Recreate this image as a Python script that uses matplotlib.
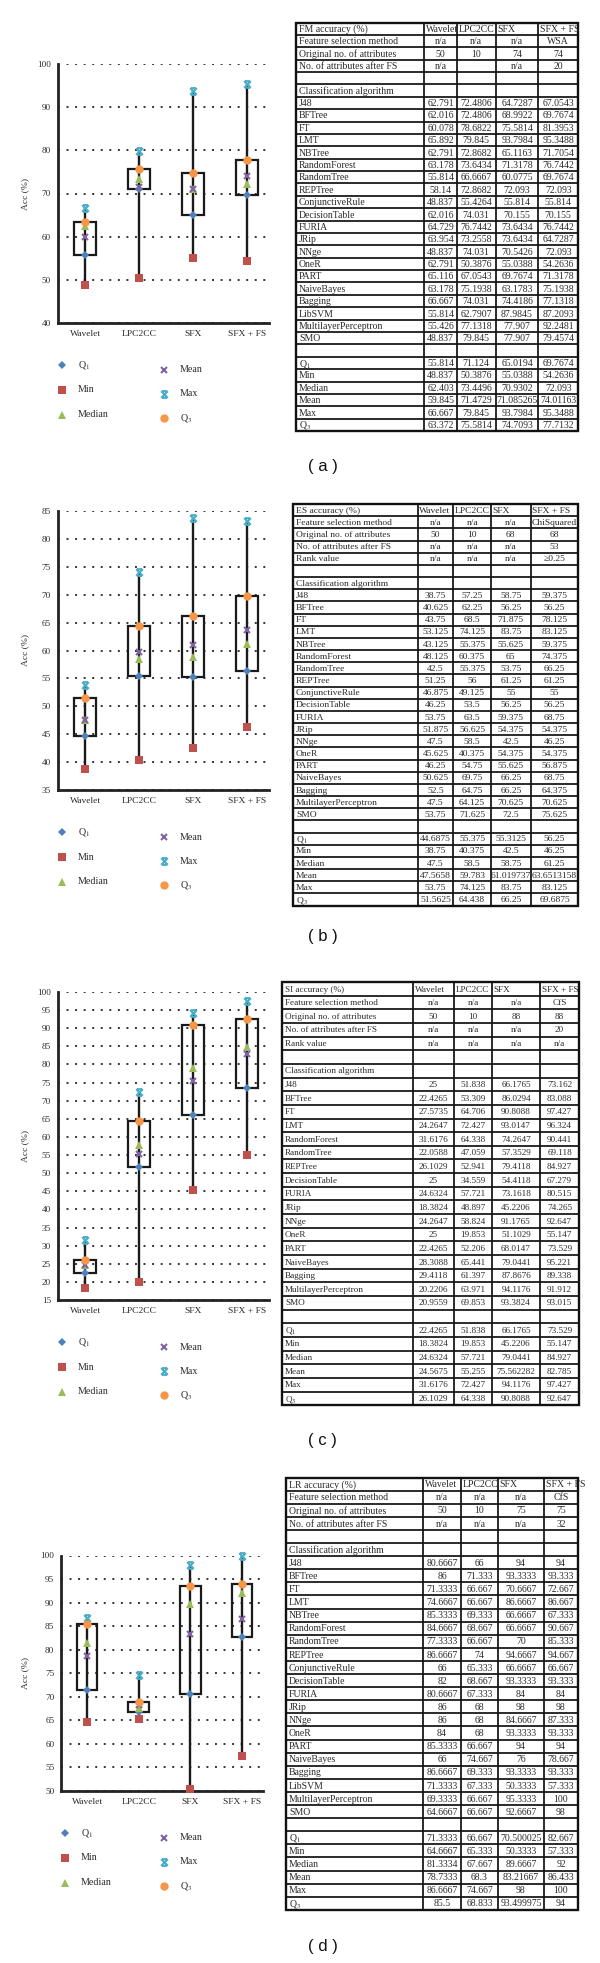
import numpy as np
import matplotlib
matplotlib.use('Agg')
import matplotlib.pyplot as plt
from matplotlib.patches import Rectangle
from matplotlib.path import Path

plt.rcParams['mathtext.fontset'] = 'stix'
SERIF = ['Liberation Serif', 'DejaVu Serif']
SANS = ['Liberation Sans', 'DejaVu Sans']

# ---------------- data ----------------
methods = ['Wavelet', 'LPC2CC', 'SFX', 'SFX + FS']
stat_names = ['Q$_1$', 'Min', 'Median', 'Mean', 'Max', 'Q$_3$']

# (a) FM
a_title = 'FM accuracy (%)'
a_meta_names = ['Feature selection method', 'Original no. of attributes', 'No. of attributes after FS']
a_meta_vals = [['n/a', 'n/a', 'n/a', 'WSA'], ['50', '10', '74', '74'], ['n/a', '', 'n/a', '20']]
a_algos = ['J48', 'BFTree', 'FT', 'LMT', 'NBTree', 'RandomForest', 'RandomTree', 'REPTree',
           'ConjunctiveRule', 'DecisionTable', 'FURIA', 'JRip', 'NNge', 'OneR', 'PART',
           'NaiveBayes', 'Bagging', 'LibSVM', 'MultilayerPerceptron', 'SMO']
a_wavelet = [62.791, 62.016, 60.078, 65.892, 62.791, 63.178, 55.814, 58.14, 48.837, 62.016,
             64.729, 63.954, 48.837, 62.791, 65.116, 63.178, 66.667, 55.814, 55.426, 48.837]
a_lpc2cc = [72.4806, 72.4806, 78.6822, 79.845, 72.8682, 73.6434, 66.6667, 72.8682, 55.4264, 74.031,
            76.7442, 73.2558, 74.031, 50.3876, 67.0543, 75.1938, 74.031, 62.7907, 77.1318, 79.845]
a_sfx = [64.7287, 68.9922, 75.5814, 93.7984, 65.1163, 71.3178, 60.0775, 72.093, 55.814, 70.155,
         73.6434, 73.6434, 70.5426, 55.0388, 69.7674, 63.1783, 74.4186, 87.9845, 77.907, 77.907]
a_sfxfs = [67.0543, 69.7674, 81.3953, 95.3488, 71.7054, 76.7442, 69.7674, 72.093, 55.814, 70.155,
           76.7442, 64.7287, 72.093, 54.2636, 71.3178, 75.1938, 77.1318, 87.2093, 92.2481, 79.4574]
a_q1 = [55.814, 71.124, 65.0194, 69.7674]
a_min = [48.837, 50.3876, 55.0388, 54.2636]
a_median = [62.403, 73.4496, 70.9302, 72.093]
a_mean = [59.845, 71.4729, 71.085265, 74.01163]
a_max = [66.667, 79.845, 93.7984, 95.3488]
a_q3 = [63.372, 75.5814, 74.7093, 77.7132]

# (b) ES
b_title = 'ES accuracy (%)'
b_meta_names = ['Feature selection method', 'Original no. of attributes', 'No. of attributes after FS', 'Rank value']
b_meta_vals = [['n/a', 'n/a', 'n/a', 'ChiSquared'], ['50', '10', '68', '68'],
               ['n/a', 'n/a', 'n/a', '53'], ['n/a', 'n/a', 'n/a', '\u22650.25']]
b_algos = ['J48', 'BFTree', 'FT', 'LMT', 'NBTree', 'RandomForest', 'RandomTree', 'REPTree',
           'ConjunctiveRule', 'DecisionTable', 'FURIA', 'JRip', 'NNge', 'OneR', 'PART',
           'NaiveBayes', 'Bagging', 'MultilayerPerceptron', 'SMO']
b_wavelet = [38.75, 40.625, 43.75, 53.125, 43.125, 48.125, 42.5, 51.25, 46.875, 46.25,
             53.75, 51.875, 47.5, 45.625, 46.25, 50.625, 52.5, 47.5, 53.75]
b_lpc2cc = [57.25, 62.25, 68.5, 74.125, 55.375, 60.375, 55.375, 56, 49.125, 53.5,
            63.5, 56.625, 58.5, 40.375, 54.75, 69.75, 64.75, 64.125, 71.625]
b_sfx = [58.75, 56.25, 71.875, 83.75, 55.625, 65, 53.75, 61.25, 55, 56.25,
         59.375, 54.375, 42.5, 54.375, 55.625, 66.25, 66.25, 70.625, 72.5]
b_sfxfs = [59.375, 56.25, 78.125, 83.125, 59.375, 74.375, 66.25, 61.25, 55, 56.25,
           68.75, 54.375, 46.25, 54.375, 56.875, 68.75, 64.375, 70.625, 75.625]
b_q1 = [44.6875, 55.375, 55.3125, 56.25]
b_min = [38.75, 40.375, 42.5, 46.25]
b_median = [47.5, 58.5, 58.75, 61.25]
b_mean = [47.5658, 59.783, 61.019737, 63.6513158]
b_max = [53.75, 74.125, 83.75, 83.125]
b_q3 = [51.5625, 64.438, 66.25, 69.6875]

# (c) SI
c_title = 'SI accuracy (%)'
c_meta_names = ['Feature selection method', 'Original no. of attributes', 'No. of attributes after FS', 'Rank value']
c_meta_vals = [['n/a', 'n/a', 'n/a', 'CfS'], ['50', '10', '88', '88'],
               ['n/a', 'n/a', 'n/a', '20'], ['n/a', 'n/a', 'n/a', 'n/a']]
c_algos = ['J48', 'BFTree', 'FT', 'LMT', 'RandomForest', 'RandomTree', 'REPTree', 'DecisionTable',
           'FURIA', 'JRip', 'NNge', 'OneR', 'PART', 'NaiveBayes', 'Bagging',
           'MultilayerPerceptron', 'SMO']
c_wavelet = [25, 22.4265, 27.5735, 24.2647, 31.6176, 22.0588, 26.1029, 25, 24.6324, 18.3824,
             24.2647, 25, 22.4265, 28.3088, 29.4118, 20.2206, 20.9559]
c_lpc2cc = [51.838, 53.309, 64.706, 72.427, 64.338, 47.059, 52.941, 34.559, 57.721, 48.897,
            58.824, 19.853, 52.206, 65.441, 61.397, 63.971, 69.853]
c_sfx = [66.1765, 86.0294, 90.8088, 93.0147, 74.2647, 57.3529, 79.4118, 54.4118, 73.1618, 45.2206,
         91.1765, 51.1029, 68.0147, 79.0441, 87.8676, 94.1176, 93.3824]
c_sfxfs = [73.162, 83.088, 97.427, 96.324, 90.441, 69.118, 84.927, 67.279, 80.515, 74.265,
           92.647, 55.147, 73.529, 95.221, 89.338, 91.912, 93.015]
c_q1 = [22.4265, 51.838, 66.1765, 73.529]
c_min = [18.3824, 19.853, 45.2206, 55.147]
c_median = [24.6324, 57.721, 79.0441, 84.927]
c_mean = [24.5675, 55.255, 75.562282, 82.785]
c_max = [31.6176, 72.427, 94.1176, 97.427]
c_q3 = [26.1029, 64.338, 90.8088, 92.647]

# (d) LR
d_title = 'LR accuracy (%)'
d_meta_names = ['Feature selection method', 'Original no. of attributes', 'No. of attributes after FS']
d_meta_vals = [['n/a', 'n/a', 'n/a', 'CfS'], ['50', '10', '75', '75'], ['n/a', 'n/a', 'n/a', '32']]
d_algos = a_algos
d_wavelet = [80.6667, 86, 71.3333, 74.6667, 85.3333, 84.6667, 77.3333, 86.6667, 66, 82,
             80.6667, 86, 86, 84, 85.3333, 66, 86.6667, 71.3333, 69.3333, 64.6667]
d_lpc2cc = [66, 71.333, 66.667, 66.667, 69.333, 68.667, 66.667, 74, 65.333, 68.667,
            67.333, 68, 68, 68, 66.667, 74.667, 69.333, 67.333, 66.667, 66.667]
d_sfx = [94, 93.3333, 70.6667, 86.6667, 66.6667, 66.6667, 70, 94.6667, 66.6667, 93.3333,
         84, 98, 84.6667, 93.3333, 94, 76, 93.3333, 50.3333, 95.3333, 92.6667]
d_sfxfs = [94, 93.333, 72.667, 86.667, 67.333, 90.667, 85.333, 94.667, 66.667, 93.333,
           84, 98, 87.333, 93.333, 94, 78.667, 93.333, 57.333, 100, 98]
d_q1 = [71.3333, 66.667, 70.500025, 82.667]
d_min = [64.6667, 65.333, 50.3333, 57.333]
d_median = [81.3334, 67.667, 89.6667, 92]
d_mean = [78.7333, 68.3, 83.21667, 86.433]
d_max = [86.6667, 74.667, 98, 100]
d_q3 = [85.5, 68.833, 93.499975, 94]

# ---------------- figure ----------------
W, H = 600, 1963
fig = plt.figure(figsize=(W / 100, H / 100), dpi=100)
fig.patch.set_facecolor('white')


def px_axes(x0, y0, x1, y1):
    return fig.add_axes([x0 / W, 1 - y1 / H, (x1 - x0) / W, (y1 - y0) / H])


overlay = px_axes(0, 0, W, H)
overlay.set_xlim(0, W)
overlay.set_ylim(H, 0)
overlay.axis('off')
overlay.patch.set_alpha(0)
overlay.set_zorder(5)

MAX_MARKER = Path([(-1, -1), (1, 1), (-1, 1), (1, -1), (-0.75, 1), (0.75, 1), (-0.75, -1), (0.75, -1)],
                  [Path.MOVETO, Path.LINETO] * 4)
STYLES = [
    dict(marker='D', color='#4F81BD', ms=4.4, mew=0),
    dict(marker='s', color='#C0504D', ms=5.4, mew=0),
    dict(marker='^', color='#9BBB59', ms=5.8, mew=0),
    dict(marker='x', color='#8064A2', ms=5.0, mew=1.5),
    dict(marker=MAX_MARKER, color='#4BACC6', ms=4.8, mew=1.5),
    dict(marker='o', color='#F79646', ms=6.0, mew=0),
]
TXT = '#2a2a2a'


def draw_chart(x0, x1, ytop, ybot, ylo, yhi, step, stats):
    q1, mn, med, mean, mx, q3 = stats
    ax = px_axes(x0, ytop, x1, ybot)
    ax.set_xlim(0.5, 4.4)
    ax.set_ylim(ylo, yhi)
    xs = np.arange(1, 5)
    for i in range(4):
        ax.plot([xs[i], xs[i]], [mn[i], mx[i]], color='#1a1a1a', lw=1.7, zorder=2,
                solid_capstyle='butt')
        ax.add_patch(Rectangle((xs[i] - 0.2, q1[i]), 0.4, q3[i] - q1[i], fill=False,
                               ec='#1a1a1a', lw=1.6, zorder=3))
    for vals, st in zip(stats, STYLES):
        ax.plot(xs, vals, linestyle='none', marker=st['marker'], ms=st['ms'],
                mfc=st['color'], mec=st['color'], mew=st['mew'], zorder=4, clip_on=False)
    ax.set_yticks(np.arange(ylo, yhi + step / 2, step))
    ax.set_xticks(xs)
    ax.set_xticklabels(methods, family=SERIF, fontsize=6.8, color=TXT)
    for lab in ax.get_yticklabels():
        lab.set_family(SERIF)
        lab.set_fontsize(6.6)
        lab.set_color(TXT)
    ax.tick_params(length=0, pad=5)
    ax.yaxis.grid(True, linestyle=(0, (1, 3.4)), color='#333333', lw=1.4)
    ax.set_axisbelow(True)
    for s in ['top', 'right']:
        ax.spines[s].set_visible(False)
    for s in ['left', 'bottom']:
        ax.spines[s].set_linewidth(2.0)
        ax.spines[s].set_color('#222222')
    ax.patch.set_alpha(0)
    overlay.text(25, (ytop + ybot) / 2, 'Acc (%)', rotation=90, ha='center', va='center',
                 family=SERIF, fontsize=6.8, color=TXT)
    # legend
    col1 = [(x0 + 4, ybot + 42), (x0 + 4, ybot + 67), (x0 + 4, ybot + 92)]
    col2 = [(164, ybot + 47), (164, ybot + 71), (164, ybot + 95)]
    for (px, py), st, name in zip(col1 + col2, STYLES, stat_names):
        overlay.plot([px], [py], linestyle='none', marker=st['marker'], ms=st['ms'],
                     mfc=st['color'], mec=st['color'], mew=st['mew'])
        overlay.text(px + 16, py, name, ha='left', va='center', family=SERIF,
                     fontsize=7.2, color=TXT)


def draw_table(edges, top, rh, title, meta_names, meta_vals, algos, cols, stats, fs):
    rows = [(title, methods, 'head')]
    for n, v in zip(meta_names, meta_vals):
        rows.append((n, v, 'meta'))
    rows.append(('', ['', '', '', ''], 'blank'))
    rows.append(('Classification algorithm', ['', '', '', ''], 'blank'))
    for k, name in enumerate(algos):
        rows.append((name, [str(c[k]) for c in cols], 'val'))
    rows.append(('', ['', '', '', ''], 'blank'))
    for n, vals in zip(stat_names, stats):
        rows.append((n, [str(v) for v in vals], 'val'))
    n = len(rows)
    bottom = top + n * rh
    for r in range(n + 1):
        y = top + r * rh
        overlay.plot([edges[0], edges[-1]], [y, y], color='#111111', lw=1.25)
    for e in edges:
        overlay.plot([e, e], [top, bottom], color='#111111', lw=1.25)
    overlay.add_patch(Rectangle((edges[0], top), edges[-1] - edges[0], bottom - top,
                                fill=False, ec='#111111', lw=1.7))
    for r, (label, cells, kind) in enumerate(rows):
        yc = top + (r + 0.55) * rh
        overlay.text(edges[0] + 3, yc, label, ha='left', va='center', family=SERIF,
                     fontsize=fs, color=TXT)
        for j, c in enumerate(cells):
            if kind == 'head':
                overlay.text(edges[j + 1] + 1.5, yc, c, ha='left', va='center', family=SERIF,
                             fontsize=fs, color=TXT)
            else:
                overlay.text((edges[j + 1] + edges[j + 2]) / 2, yc, c, ha='center', va='center',
                             family=SERIF, fontsize=fs, color=TXT)


# panel (a)
a_stats = [a_q1, a_min, a_median, a_mean, a_max, a_q3]
draw_chart(58, 268.6, 64.3, 322.7, 40, 100, 10, a_stats)
draw_table([296, 424.3, 456.7, 495.7, 538.3, 578.3], 22.5, 12.38, a_title, a_meta_names,
           a_meta_vals, a_algos, [a_wavelet, a_lpc2cc, a_sfx, a_sfxfs], a_stats, 7.0)
overlay.text(323, 467, '( a )', ha='center', va='center', family=SANS, fontsize=12, color='#111111')

# panel (b)
b_stats = [b_q1, b_min, b_median, b_mean, b_max, b_q3]
draw_chart(58, 268.6, 511, 790, 35, 85, 5, b_stats)
draw_table([293, 417.7, 453.3, 491, 530.7, 578.3], 504, 12.17, b_title, b_meta_names,
           b_meta_vals, b_algos, [b_wavelet, b_lpc2cc, b_sfx, b_sfxfs], b_stats, 6.8)
overlay.text(323, 937, '( b )', ha='center', va='center', family=SANS, fontsize=12, color='#111111')

# panel (c)
c_stats = [c_q1, c_min, c_median, c_mean, c_max, c_q3]
draw_chart(58, 268.6, 992, 1300, 15, 100, 5, c_stats)
draw_table([282, 413, 454, 492, 540, 579], 982, 13.65, c_title, c_meta_names,
           c_meta_vals, c_algos, [c_wavelet, c_lpc2cc, c_sfx, c_sfxfs], c_stats, 6.6)
overlay.text(322, 1440, '( c )', ha='center', va='center', family=SANS, fontsize=12, color='#111111')

# panel (d)
d_stats = [d_q1, d_min, d_median, d_mean, d_max, d_q3]
draw_chart(61.2, 262.8, 1555.5, 1790.7, 50, 100, 5, d_stats)
draw_table([286, 423, 461, 498, 544, 578], 1477.5, 13.1, d_title, d_meta_names,
           d_meta_vals, d_algos, [d_wavelet, d_lpc2cc, d_sfx, d_sfxfs], d_stats, 7.0)
overlay.text(323, 1947, '( d )', ha='center', va='center', family=SANS, fontsize=12, color='#111111')

fig.savefig('out.png', dpi=100, facecolor='white')
